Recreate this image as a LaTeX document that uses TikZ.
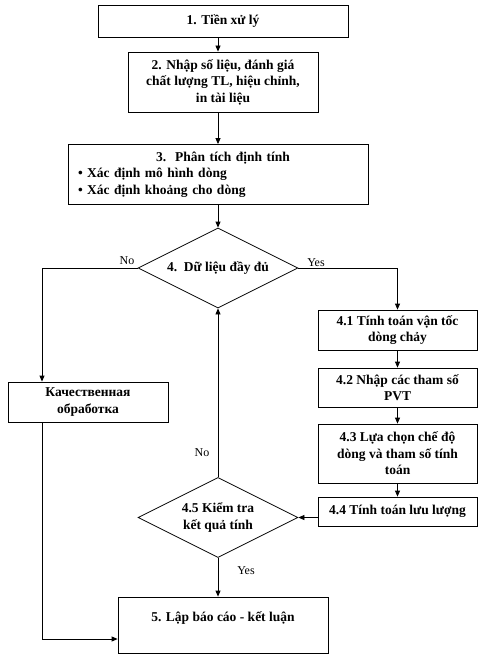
\documentclass[tikz,border=0pt]{standalone}
\usepackage{fontspec}
\setmainfont{Liberation Serif}
\usepackage{tikz}
\usetikzlibrary{shapes.geometric,arrows.meta}

\begin{document}
\begin{tikzpicture}[x=1pt,y=-1pt,line width=0.8pt,>={Triangle[length=6pt,width=5pt]},
  box/.style={draw=black,rectangle,align=center,inner sep=2pt,font=\bfseries\fontsize{13.5}{16.5}\selectfont},
  dec/.style={draw=black,diamond,shape aspect=2,align=center,inner sep=0pt,minimum width=160pt,minimum height=80pt,font=\bfseries\fontsize{13.5}{16.5}\selectfont},
  lbl/.style={inner sep=0pt,font=\fontsize{12}{14}\selectfont}]
\useasboundingbox (0,0) rectangle (500,668);
\node[box,minimum width=250pt,minimum height=32pt] (1) at (223,21) {1. Tiền xử lý};
\node[box,minimum width=190pt,minimum height=60pt] (2) at (223,82) {2. Nhập số liệu, đánh giá\\chất lượng TL, hiệu chỉnh,\\in tài liệu};
\node[box,minimum width=300pt,minimum height=60pt,text width=280pt,inner xsep=10pt,align=left] (3) at (218,174.5)
  {\makebox[280pt]{\hspace{10pt}3.~~Phân tích định tính}\\\textbullet~Xác định mô hình dòng\\\textbullet~Xác định khoảng cho dòng};
\node[dec] (4) at (218,268) {4.~~Dữ liệu đầy đủ};
\node[box,minimum width=160pt,minimum height=40pt] (K) at (88,402) {Качественная\\обработка};
\node[box,minimum width=159pt,minimum height=40pt] (41) at (397.5,330) {4.1 Tính toán vận tốc\\dòng chảy};
\node[box,minimum width=159pt,minimum height=39pt] (42) at (397.5,387.5) {4.2 Nhập các tham số\\PVT};
\node[box,minimum width=159pt,minimum height=59pt] (43) at (397.5,453.5) {4.3 Lựa chọn chế độ\\dòng và tham số tính\\toán};
\node[box,minimum width=159pt,minimum height=29pt] (44) at (397.5,511.5) {4.4 Tính toán lưu lượng};
\node[dec] (45) at (218,517.5) {4.5 Kiểm tra\\kết quả tính};
\node[box,minimum width=210pt,minimum height=56pt] (5) at (223,625) {5. Lập báo cáo - kết luận\\\mbox{}};
\node[lbl] (no1) at (127,261) {No};
\node[lbl] (yes1) at (316,263) {Yes};
\node[lbl] (no2) at (202,453) {No};
\node[lbl] (yes2) at (246,571) {Yes};
\draw [->] (1.south -| 4) -- (2.north -| 4);
\draw [->] (2.south -| 4) -- (3.north -| 4);
\draw [->] (3.south) -- (4.north);
\draw [->] (4.west) -| ([xshift=-46pt]K.north);
\draw [->] (4.east) -| (41.north);
\draw [->] (41) -- (42);
\draw [->] (42) -- (43);
\draw [->] (43) -- (44);
\draw [->] (44.west |- 45) -- (45.east);
\draw [->] (45.north) -- (4.south);
\draw [->] (45.south) -- (45.south |- 5.north);
\draw [->] ([xshift=-46pt]K.south) |- ([yshift=-14pt]5.west);
\end{tikzpicture}
\end{document}
